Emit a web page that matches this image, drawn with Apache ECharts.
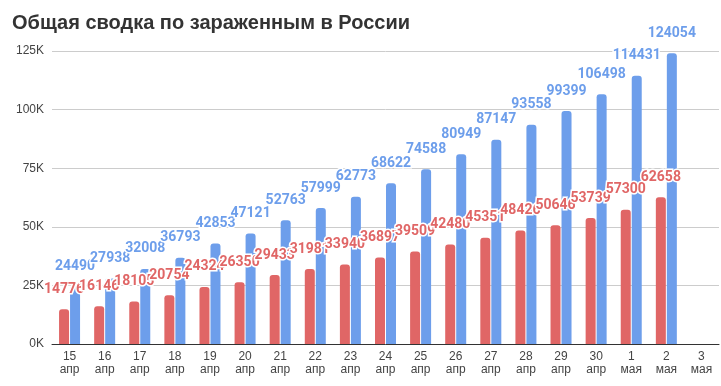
<!DOCTYPE html>
<html><head><meta charset="utf-8">
<script src="https://cdn.jsdelivr.net/npm/echarts@6/dist/echarts.min.js"></script>
<style>html,body{margin:0;padding:0;background:#fff}#c{width:721px;height:386px}</style>
</head><body><div id="c"></div>
<script>
const titleText = 'Общая сводка по зараженным в России';
const categories = ['15\nапр','16\nапр','17\nапр','18\nапр','19\nапр','20\nапр','21\nапр','22\nапр','23\nапр','24\nапр','25\nапр','26\nапр','27\nапр','28\nапр','29\nапр','30\nапр','1\nмая','2\nмая','3\nмая'];
const redValues = [14776,16146,18105,20754,24324,26350,29433,31981,33940,36897,39509,42480,45351,48426,50646,53739,57300,62658,null];
const blueValues = [24490,27938,32008,36793,42853,47121,52763,57999,62773,68622,74588,80949,87147,93558,99399,106498,114431,124054,null];
const yTicks = [0,25000,50000,75000,100000,125000];

const RED = '#e06666', BLUE = '#6d9eeb';
function lbl(color){return {show:true,position:'top',distance:13,color:color,fontSize:14,fontWeight:'bold',fontFamily:'Roboto, Arial, sans-serif',textBorderColor:'#fff',textBorderWidth:3};}
const chart = echarts.init(document.getElementById('c'));
chart.setOption({
  animation:false,
  title:{text:titleText,left:7,top:8,textStyle:{fontFamily:'Liberation Sans, Arial, sans-serif',fontSize:20,fontWeight:'bold',color:'#333'}},
  grid:{left:52,right:2,top:51,bottom:42},
  xAxis:{type:'category',data:categories,axisTick:{show:false},
    axisLine:{lineStyle:{color:'#333',width:1}},
    axisLabel:{interval:0,color:'#444',fontSize:12,lineHeight:13,margin:6,fontFamily:'Liberation Sans, Arial, sans-serif'}},
  yAxis:{type:'value',min:yTicks[0],max:yTicks[yTicks.length-1],interval:yTicks[1]-yTicks[0],
    axisLabel:{formatter:v=>(v/1000)+'K',color:'#444',fontSize:12,margin:8,fontFamily:'Liberation Sans, Arial, sans-serif'},
    splitLine:{lineStyle:{color:'#ccc'}},axisLine:{show:false},axisTick:{show:false}},
  series:[
    {type:'bar',data:redValues,barWidth:10,barGap:'10%',itemStyle:{color:RED,borderRadius:[3,3,0,0]},label:lbl(RED)},
    {type:'bar',data:blueValues,barWidth:10,barGap:'10%',itemStyle:{color:BLUE,borderRadius:[3,3,0,0]},label:lbl(BLUE)}
  ]
});
</script></body></html>
